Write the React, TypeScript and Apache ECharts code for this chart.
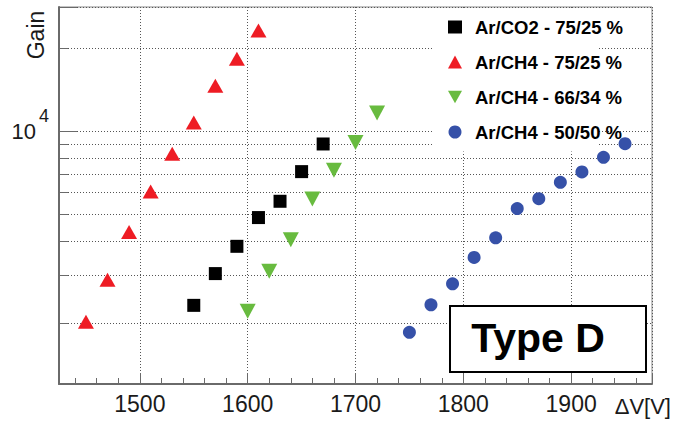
import React, { useEffect, useRef } from 'react';
import * as echarts from 'echarts';

const FONT = '"Liberation Sans", Arial, Helvetica, sans-serif';

// Series names (legend order)
const seriesNames = ['Ar/CO2 - 75/25 %', 'Ar/CH4 - 75/25 %', 'Ar/CH4 - 66/34 %', 'Ar/CH4 - 50/50 %'];
const seriesColors = ['#000000', '#ee1c24', '#68bb3f', '#3651a8'];

// Ar/CO2 - 75/25 %
const co2_75_V = [1550, 1570, 1590, 1610, 1630, 1650, 1670];
const co2_75_Gain = [2330, 3040, 3820, 4860, 5570, 7140, 9000];

// Ar/CH4 - 75/25 %
const ch4_75_V = [1450, 1470, 1490, 1510, 1530, 1550, 1570, 1590, 1610];
const ch4_75_Gain = [2030, 2890, 4310, 6050, 8300, 10780, 14660, 18380, 23300];

// Ar/CH4 - 66/34 %
const ch4_66_V = [1600, 1620, 1640, 1660, 1680, 1700, 1720];
const ch4_66_Gain = [2220, 3100, 4040, 5680, 7220, 9120, 11660];

// Ar/CH4 - 50/50 %
const ch4_50_V = [1750, 1770, 1790, 1810, 1830, 1850, 1870, 1890, 1910, 1930, 1950];
const ch4_50_Gain = [1860, 2340, 2790, 3480, 4100, 5240, 5690, 6530, 7120, 8050, 9020];

// Axis ranges
const xRange = [1425, 1975];
const yRange = [1206, 28340];

const DOWN_TRI = 'path://M0,0L20,0L10,18Z';

const pairs = (xs: number[], ys: number[]) => xs.map((x, i) => [x, ys[i]]);

export default function App() {
  const ref = useRef<HTMLDivElement>(null);

  useEffect(() => {
    const chart = echarts.init(ref.current!, null, { renderer: 'svg' });
    const dotted = { color: '#555', type: [1, 2] as any, width: 1 };
    const axisGray = '#6a6a6a';

    chart.setOption({
      animation: false,
      backgroundColor: '#ffffff',
      grid: {
        left: 59,
        top: 7,
        right: 25,
        bottom: 38,
        show: true,
        borderColor: '#888',
        borderWidth: 1,
        backgroundColor: 'transparent',
      },
      xAxis: {
        type: 'value',
        min: xRange[0],
        max: xRange[1],
        minInterval: 100,
        maxInterval: 100,
        axisLine: { show: true, onZero: false, lineStyle: { color: axisGray, width: 2 } },
        axisTick: { show: true, inside: true, length: 11, lineStyle: { color: axisGray, width: 1 } },
        minorTick: { show: true, splitNumber: 5, length: 6, lineStyle: { color: axisGray, width: 1 } },
        splitLine: { show: true, lineStyle: dotted },
        axisLabel: {
          margin: 8,
          fontSize: 23,
          fontFamily: FONT,
          color: '#1a1a1a',
          formatter: (v: number) => (Math.abs(v % 100) < 1e-6 ? String(v) : ''),
        },
      },
      yAxis: {
        type: 'log',
        logBase: 10,
        min: yRange[0],
        max: yRange[1],
        axisLine: { show: true, onZero: false, lineStyle: { color: axisGray, width: 2 } },
        axisTick: { show: true, inside: true, length: 18, lineStyle: { color: axisGray, width: 1 } },
        minorTick: { show: true, splitNumber: 9, length: 9, lineStyle: { color: axisGray, width: 1 } },
        splitLine: { show: true, lineStyle: dotted },
        minorSplitLine: { show: true, lineStyle: dotted },
        axisLabel: {
          margin: 10,
          formatter: (v: number) => (Math.abs(v - 10000) < 1 ? '{a|10}{b|4}' : ''),
          rich: {
            a: { fontSize: 22, fontFamily: FONT, color: '#1a1a1a' },
            b: { fontSize: 18, fontFamily: FONT, color: '#1a1a1a', padding: [0, 0, 30, 3] },
          },
        },
      },
      legend: {
        orient: 'vertical',
        left: 448,
        top: 16,
        padding: 0,
        itemWidth: 14,
        itemHeight: 13,
        itemGap: 13,
        selectedMode: false,
        z: 5,
        textStyle: {
          fontFamily: FONT,
          fontSize: 18.5,
          fontWeight: 'bold',
          color: '#000',
          lineHeight: 22,
          padding: [0, 0, 0, 8],
        },
        data: [
          { name: seriesNames[0], icon: 'rect' },
          { name: seriesNames[1], icon: 'triangle' },
          { name: seriesNames[2], icon: DOWN_TRI },
          { name: seriesNames[3], icon: 'circle' },
        ],
      },
      graphic: [
        { type: 'rect', z: 3, shape: { x: 432, y: 8.5, width: 165, height: 143 }, style: { fill: '#fff' } },
        {
          type: 'rect',
          z: 10,
          shape: { x: 450, y: 306, width: 196, height: 66 },
          style: { fill: '#fff', stroke: '#000', lineWidth: 2 },
        },
        {
          type: 'text',
          z: 11,
          x: 538,
          y: 338,
          style: { text: 'Type D', font: `bold 41px ${FONT}`, align: 'center', verticalAlign: 'middle', fill: '#000' },
        },
        {
          type: 'text',
          z: 11,
          x: 36,
          y: 35,
          rotation: Math.PI / 2,
          style: { text: 'Gain', font: `23px ${FONT}`, align: 'center', verticalAlign: 'middle', fill: '#1a1a1a' },
        },
        {
          type: 'text',
          z: 11,
          x: 671,
          y: 406,
          style: { text: 'ΔV[V]', font: `22px ${FONT}`, align: 'right', verticalAlign: 'middle', fill: '#1a1a1a' },
        },
      ],
      series: [
        {
          type: 'scatter',
          name: seriesNames[0],
          data: pairs(co2_75_V, co2_75_Gain),
          symbol: 'rect',
          symbolSize: 13,
          itemStyle: { color: seriesColors[0], opacity: 1 },
        },
        {
          type: 'scatter',
          name: seriesNames[1],
          data: pairs(ch4_75_V, ch4_75_Gain),
          symbol: 'triangle',
          symbolSize: [16, 14],
          itemStyle: { color: seriesColors[1], opacity: 1 },
        },
        {
          type: 'scatter',
          name: seriesNames[2],
          data: pairs(ch4_66_V, ch4_66_Gain),
          symbol: DOWN_TRI,
          symbolSize: [16, 15],
          itemStyle: { color: seriesColors[2], opacity: 1 },
        },
        {
          type: 'scatter',
          name: seriesNames[3],
          data: pairs(ch4_50_V, ch4_50_Gain),
          symbol: 'circle',
          symbolSize: 13,
          itemStyle: { color: seriesColors[3], opacity: 1 },
        },
      ],
    });

    return () => chart.dispose();
  }, []);

  return (
    <div
      ref={ref}
      style={{ position: 'fixed', left: 0, top: 0, width: 677, height: 422, background: '#fff' }}
    />
  );
}
